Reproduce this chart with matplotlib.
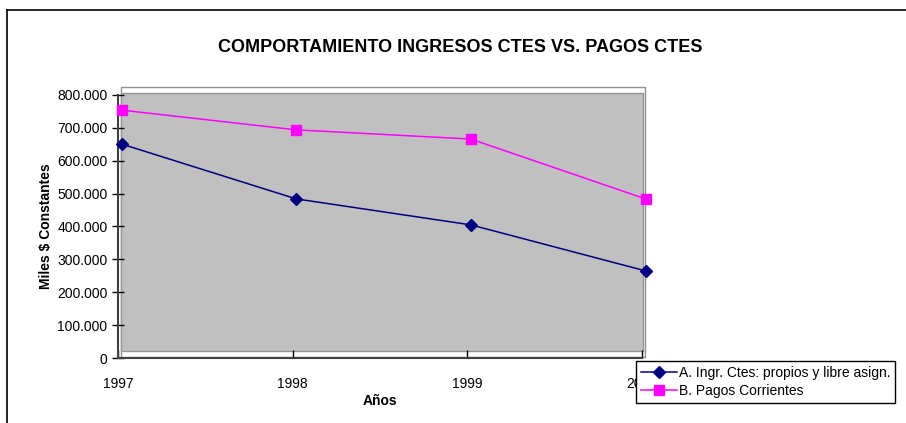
import matplotlib
matplotlib.use('Agg')
import matplotlib.pyplot as plt
import matplotlib.transforms as mtransforms
from matplotlib.patches import Rectangle
from matplotlib.lines import Line2D

years = [1997, 1998, 1999, 2000]
ingresos = [651000, 484000, 405000, 265000]
pagos = [754000, 694000, 666000, 484000]
yticks = [0, 100000, 200000, 300000, 400000, 500000, 600000, 700000, 800000]
ytick_labels = ['0', '100.000', '200.000', '300.000', '400.000',
                '500.000', '600.000', '700.000', '800.000']

plt.rcParams['font.family'] = ['Liberation Sans', 'DejaVu Sans']

W, H = 906, 423
fig = plt.figure(figsize=(W / 100, H / 100), dpi=100)

def px(x0, y0, x1, y1):
    # image pixel box -> figure fraction rect
    return [x0 / W, 1 - y1 / H, (x1 - x0) / W, (y1 - y0) / H]

ax = fig.add_axes(px(118, 95, 642, 358))
ax.set_facecolor('none')

# plot area wall (Excel style)
fig.add_artist(Rectangle((121 / W, 1 - 357 / H), (645 - 121) / W, (357 - 87) / H,
                         transform=fig.transFigure, facecolor='white',
                         edgecolor='#909090', lw=1, zorder=0))
fig.add_artist(Rectangle((121 / W, 1 - 351 / H), (643 - 121) / W, (351 - 93) / H,
                         transform=fig.transFigure, facecolor='#C0C0C0',
                         edgecolor='#969696', lw=1, zorder=0))

shift = mtransforms.offset_copy(ax.transData, fig=fig, x=3.5, y=0, units='dots')
ax.plot(years, ingresos, color='#000080', lw=1.1, marker='D', ms=6,
        transform=shift, clip_on=False, zorder=3,
        label='A. Ingr. Ctes: propios y libre asign.')
ax.plot(years, pagos, color='#FF00FF', lw=1.1, marker='s', ms=7,
        transform=shift, clip_on=False, zorder=3,
        label='B. Pagos Corrientes')

ax.set_xlim(1997, 2000)
ax.set_ylim(0, 800000)
ax.set_xticks(years)
ax.set_xticklabels([str(y) for y in years], fontsize=10)
ax.set_yticks(yticks)
ax.set_yticklabels(ytick_labels, fontsize=10)
ax.tick_params(axis='x', direction='in', length=6, width=1, pad=14, color='black')
ax.tick_params(axis='y', direction='inout', length=9, width=1, pad=3, color='black')
for s in ['top', 'right']:
    ax.spines[s].set_visible(False)
ax.spines['left'].set_color('#404040')
ax.spines['bottom'].set_color('#404040')
ax.spines['left'].set_linewidth(1.5)
ax.spines['bottom'].set_linewidth(1.5)

ax.set_ylabel('Miles $ Constantes', fontsize=10, fontweight='bold', labelpad=3)
ax.set_xlabel('Años', fontsize=10, fontweight='bold', labelpad=2)

fig.text(460 / W, 1 - 48 / H, 'COMPORTAMIENTO INGRESOS CTES VS. PAGOS CTES',
         ha='center', va='center', fontsize=13, fontweight='bold')

leg = fig.legend(loc='upper left', bbox_to_anchor=(636 / W, 1 - 361 / H),
                 fontsize=10, frameon=True, fancybox=False, shadow=False,
                 framealpha=1, borderpad=0.35, labelspacing=0.3, handlelength=2.6,
                 handletextpad=0.15, borderaxespad=0)
leg.get_frame().set_edgecolor('black')
leg.get_frame().set_linewidth(1)
leg.set_zorder(5)

# outer chart border
fig.add_artist(Line2D([7 / W, 7 / W], [0, 1 - 10 / H], transform=fig.transFigure,
                      color='black', lw=1.2))
fig.add_artist(Line2D([7 / W, 1], [1 - 10 / H, 1 - 10 / H], transform=fig.transFigure,
                      color='black', lw=1.2))

fig.savefig('out.png', dpi=100)
